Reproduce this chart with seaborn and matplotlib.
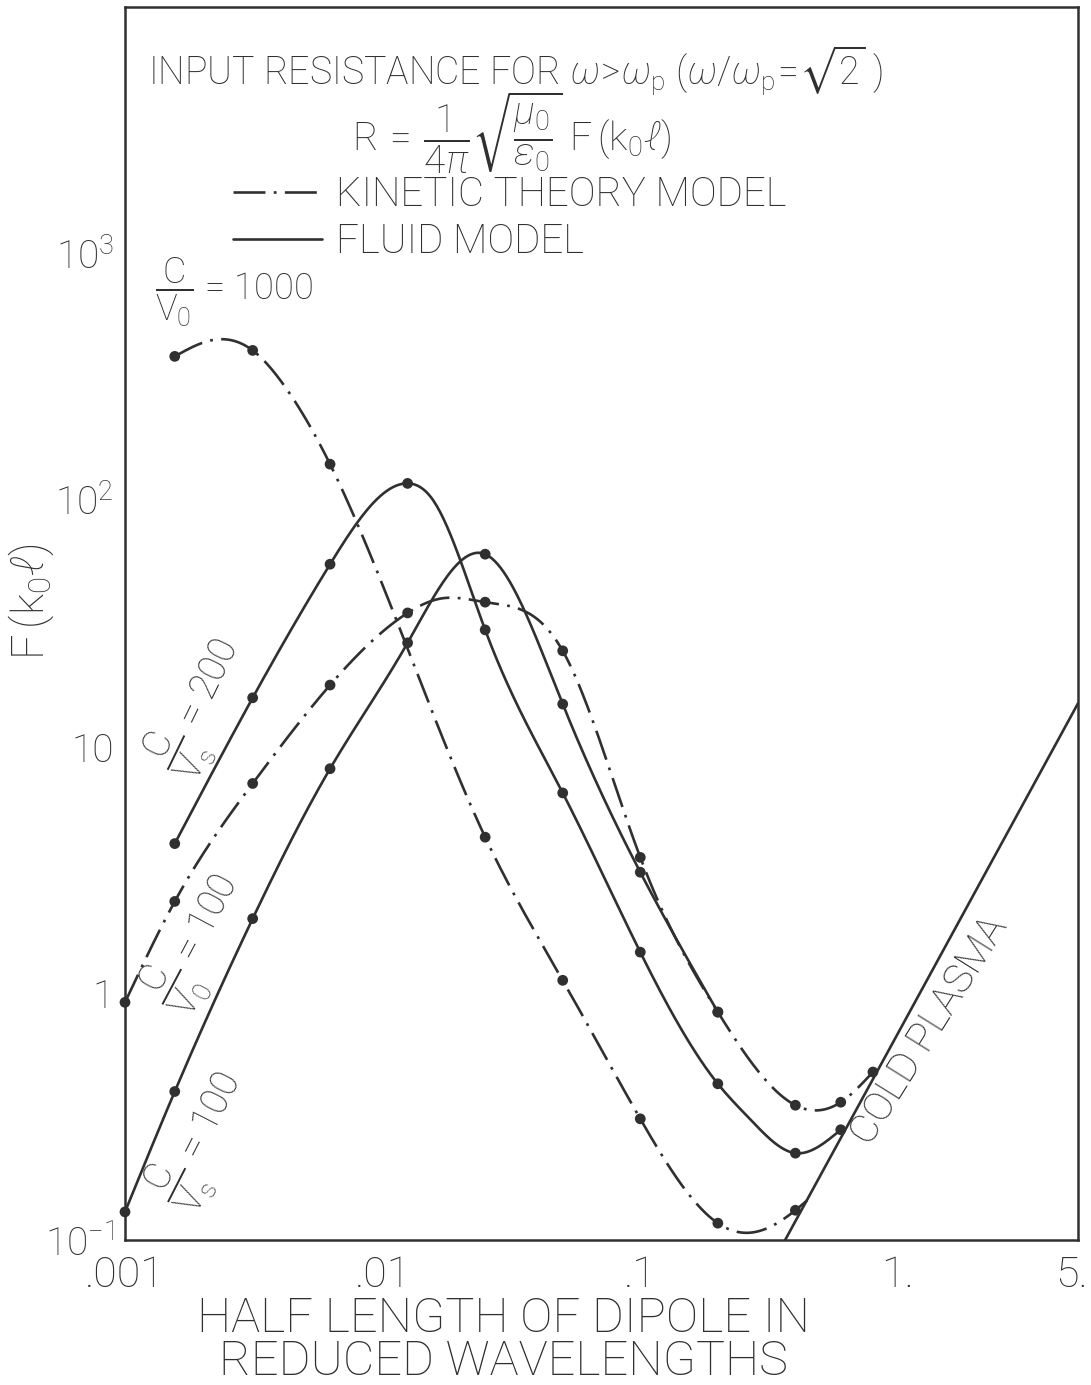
import numpy as np
import pandas as pd
import matplotlib
matplotlib.use("Agg")
import matplotlib.pyplot as plt
import seaborn as sns
from matplotlib import font_manager as fm
from matplotlib.lines import Line2D
from matplotlib.ticker import FixedLocator, FixedFormatter, NullFormatter
from matplotlib.transforms import ScaledTranslation

# ---------------------------------------------------------------- data
# half length of dipole (reduced wavelengths) and F(k0 l) at computed points

# kinetic theory model, C/V0 = 1000
x_kin1000 = [0.00156, 0.00313, 0.00625, 0.025, 0.05, 0.1, 0.2, 0.4]
F_kin1000 = [383, 405, 140, 4.3, 1.13, 0.31, 0.117, 0.132]
xc_kin1000 = [0.00156, 0.00216, 0.00313, 0.00404, 0.00625, 0.0125, 0.025,
              0.05, 0.1, 0.2, 0.265, 0.4, 0.445]
Fc_kin1000 = [383, 445, 405, 303, 140, 25, 4.3, 1.13, 0.31, 0.117, 0.107,
              0.132, 0.145]

# fluid model, C/Vs = 200
x_flu200 = [0.00156, 0.00313, 0.00625, 0.0125, 0.025, 0.05, 0.1, 0.2, 0.4, 0.6]
F_flu200 = [4.05, 15.8, 55, 117, 29.8, 6.5, 1.47, 0.43, 0.225, 0.28]
xc_flu200 = [0.00156, 0.00313, 0.00625, 0.00883, 0.0125, 0.0157,
             0.025, 0.05, 0.1, 0.2, 0.266, 0.4, 0.6]
Fc_flu200 = [4.05, 15.8, 55, 93, 117, 100, 29.8, 6.5, 1.47, 0.43, 0.31,
             0.225, 0.28]

# fluid model, C/Vs = 100
x_flu100 = [0.001, 0.00156, 0.00313, 0.00625, 0.0125, 0.025, 0.05, 0.1, 0.2]
F_flu100 = [0.13, 0.40, 2.01, 8.15, 26.4, 60.4, 14.9, 3.1, 0.84]
xc_flu100 = [0.001, 0.00156, 0.00313, 0.00625, 0.0125, 0.025, 0.037, 0.05,
             0.1, 0.2]
Fc_flu100 = [0.13, 0.40, 2.01, 8.15, 26.4, 60.4, 32.4, 14.9, 3.1, 0.84]

# kinetic theory model, C/V0 = 100
x_kin100 = [0.001, 0.00156, 0.00313, 0.00625, 0.0125, 0.025, 0.05, 0.1, 0.2,
            0.4, 0.6, 0.8]
F_kin100 = [0.92, 2.36, 7.1, 17.8, 34.9, 38.6, 24.5, 3.56, 0.84, 0.352,
            0.362, 0.48]
xc_kin100 = [0.001, 0.00156, 0.00313, 0.00625, 0.0125, 0.017, 0.025, 0.05,
             0.1, 0.2, 0.4, 0.6, 0.8]
Fc_kin100 = [0.92, 2.36, 7.1, 17.8, 34.9, 40, 38.6, 24.5, 3.56, 0.84, 0.352,
             0.362, 0.48]

# cold plasma asymptote
x_cold = [0.365, 5.0]
F_cold = [0.1, 15.0]

# axes
x_major = [0.001, 0.01, 0.1, 1.0, 5.0]
x_major_labels = [".001", ".01", ".1", "1.", "5."]
y_major = [0.1, 1, 10, 100, 1000]
y_major_labels = [r"$10^{-1}$", "1", "10", r"$10^{2}$", r"$10^{3}$"]

# ---------------------------------------------------------------- style
W, H = 1091, 1385
INK = "#303030"

sns.set_theme(style="white")
names = {f.name for f in fm.fontManager.ttflist}
FONT = "Roboto" if "Roboto" in names else "DejaVu Sans"

plt.rcParams["font.family"] = [FONT, "DejaVu Sans"]
plt.rcParams["font.weight"] = "light"
plt.rcParams["mathtext.fontset"] = "custom"
plt.rcParams["mathtext.rm"] = FONT + ":light"
plt.rcParams["mathtext.it"] = FONT + ":italic:light"
plt.rcParams["mathtext.bf"] = FONT + ":bold"
plt.rcParams["mathtext.sf"] = FONT + ":light"
plt.rcParams["mathtext.fallback"] = "stixsans"
plt.rcParams["lines.scale_dashes"] = False
plt.rcParams["text.color"] = INK

DASHDOT = (22, 6, 2, 6)
LW = 1.9


def smooth(xs, ys, n=400):
    """Natural cubic spline through the points in log-log space."""
    lx = np.log10(np.asarray(xs, float))
    ly = np.log10(np.asarray(ys, float))
    m = len(lx)
    h = np.diff(lx)
    A = np.zeros((m, m))
    b = np.zeros(m)
    A[0, 0] = A[-1, -1] = 1.0
    for i in range(1, m - 1):
        A[i, i - 1] = h[i - 1]
        A[i, i] = 2 * (h[i - 1] + h[i])
        A[i, i + 1] = h[i]
        b[i] = 6 * ((ly[i + 1] - ly[i]) / h[i] - (ly[i] - ly[i - 1]) / h[i - 1])
    M = np.linalg.solve(A, b)
    t = np.linspace(lx[0], lx[-1], n)
    idx = np.clip(np.searchsorted(lx, t) - 1, 0, m - 2)
    hh = h[idx]
    a = (lx[idx + 1] - t) / hh
    c = (t - lx[idx]) / hh
    s = a * ly[idx] + c * ly[idx + 1] + ((a ** 3 - a) * M[idx] + (c ** 3 - c) * M[idx + 1]) * hh ** 2 / 6
    return 10 ** t, 10 ** s


fig = plt.figure(figsize=(W / 100, H / 100), dpi=100)
fig.patch.set_facecolor("white")
ax = fig.add_axes([125 / W, 145 / H, 953 / W, 1233 / H])
ax.set_xscale("log")
ax.set_yscale("log")
ax.set_xlim(0.001, 5.0)
ax.set_ylim(0.1, 1e4)
ax.set_facecolor("white")

curves = [
    (xc_kin1000, Fc_kin1000, True),
    (xc_flu200, Fc_flu200, False),
    (xc_flu100, Fc_flu100, False),
    (xc_kin100, Fc_kin100, True),
]
for xs, ys, kinetic in curves:
    sx, sy = smooth(xs, ys)
    sns.lineplot(x=sx, y=sy, ax=ax, color=INK, lw=LW, sort=False,
                 estimator=None, legend=False)
    if kinetic:
        ax.get_lines()[-1].set_dashes(DASHDOT)

sns.lineplot(x=x_cold, y=F_cold, ax=ax, color=INK, lw=LW, sort=False,
             estimator=None, legend=False)

pts = pd.concat([
    pd.DataFrame({"x": x_kin1000, "F": F_kin1000, "curve": "kin1000"}),
    pd.DataFrame({"x": x_flu200, "F": F_flu200, "curve": "flu200"}),
    pd.DataFrame({"x": x_flu100, "F": F_flu100, "curve": "flu100"}),
    pd.DataFrame({"x": x_kin100, "F": F_kin100, "curve": "kin100"}),
])
sns.scatterplot(data=pts, x="x", y="F", ax=ax, color=INK, s=60,
                edgecolor="none", legend=False, zorder=4, clip_on=False)
ax.set_xlabel("")
ax.set_ylabel("")

# ---------------------------------------------------------------- axes
for sp in ax.spines.values():
    sp.set_visible(True)
    sp.set_color(INK)
    sp.set_linewidth(1.8)

minor_x = [m * 10.0 ** e for e in (-3, -2, -1) for m in range(2, 10)] + [2.0, 3.0, 4.0]
minor_y = [m * 10.0 ** e for e in (-1, 0, 1, 2, 3) for m in range(2, 10)]
ax.xaxis.set_major_locator(FixedLocator(x_major))
ax.xaxis.set_major_formatter(FixedFormatter(x_major_labels))
ax.xaxis.set_minor_locator(FixedLocator(minor_x))
ax.xaxis.set_minor_formatter(NullFormatter())
ax.yaxis.set_major_locator(FixedLocator(y_major))
ax.yaxis.set_major_formatter(FixedFormatter(y_major_labels))
ax.yaxis.set_minor_locator(FixedLocator(minor_y))
ax.yaxis.set_minor_formatter(NullFormatter())

ax.tick_params(which="both", direction="in", top=False, right=False,
               color=INK, width=1.5, labelcolor=INK)
ax.tick_params(axis="x", which="major", length=17, pad=11, labelsize=31)
ax.tick_params(axis="x", which="minor", length=9)
ax.tick_params(axis="y", which="major", length=21, pad=8, labelsize=28)
ax.tick_params(axis="y", which="minor", length=12)
ax.grid(False)

# keep the last x label ("5.") inside the figure edge
fig.canvas.draw()
last = ax.xaxis.get_major_ticks()[-1].label1
last.set_horizontalalignment("right")
last.set_transform(last.get_transform() + ScaledTranslation(10 / 100, 0, fig.dpi_scale_trans))


def fx(px):
    return px / W


def fy(py):
    return 1 - py / H


# ---------------------------------------------------------------- text
fig.text(fx(148), fy(70),
         r"INPUT RESISTANCE FOR $\omega\!>\!\omega_{\mathrm{p}}\;(\omega/\omega_{\mathrm{p}}\!=\!\sqrt{2}\;)$",
         ha="left", va="center", fontsize=27)
fig.text(fx(512), fy(133),
         r"$\mathrm{R}\,=\,\dfrac{1}{4\pi}\sqrt{\dfrac{\mu_0}{\epsilon_0}}\;\mathrm{F}\,(\mathrm{k_0}\ell)$",
         ha="center", va="center", fontsize=28)

handles = [
    Line2D([], [], color=INK, lw=LW, dashes=(23, 6, 2, 6)),
    Line2D([], [], color=INK, lw=LW),
]
fig.legend(handles, ["KINETIC THEORY MODEL", "FLUID MODEL"],
           loc="upper left", bbox_to_anchor=(fx(233), fy(176)),
           frameon=False, fontsize=29, borderpad=0, borderaxespad=0,
           handlelength=2.2, handletextpad=0.35, labelspacing=0.2,
           labelcolor=INK)

fig.text(fx(155), fy(292), r"$\dfrac{\mathrm{C}}{\mathrm{V_0}}$ = 1000",
         ha="left", va="center", fontsize=26)
fig.text(fx(201), fy(707), r"$\dfrac{\mathrm{C}}{\mathrm{V_s}}$ = 200",
         ha="center", va="center", rotation=64, rotation_mode="anchor",
         fontsize=27)
fig.text(fx(198), fy(943), r"$\dfrac{\mathrm{C}}{\mathrm{V_0}}$ = 100",
         ha="center", va="center", rotation=62, rotation_mode="anchor",
         fontsize=27)
fig.text(fx(202), fy(1140), r"$\dfrac{\mathrm{C}}{\mathrm{V_s}}$ = 100",
         ha="center", va="center", rotation=63, rotation_mode="anchor",
         fontsize=27)
fig.text(fx(929), fy(1031), "COLD PLASMA", ha="center", va="center",
         rotation=58, rotation_mode="anchor", fontsize=29)

fig.text(fx(31), fy(602), r"F$\,(\mathrm{k_0}\ell)$", ha="center", va="center",
         rotation=90, fontsize=32)
fig.text(fx(503), fy(1340), "HALF LENGTH OF DIPOLE IN\nREDUCED WAVELENGTHS",
         ha="center", va="center", multialignment="center", linespacing=0.9,
         fontsize=35)

fig.savefig("out.png", dpi=100, facecolor="white")
